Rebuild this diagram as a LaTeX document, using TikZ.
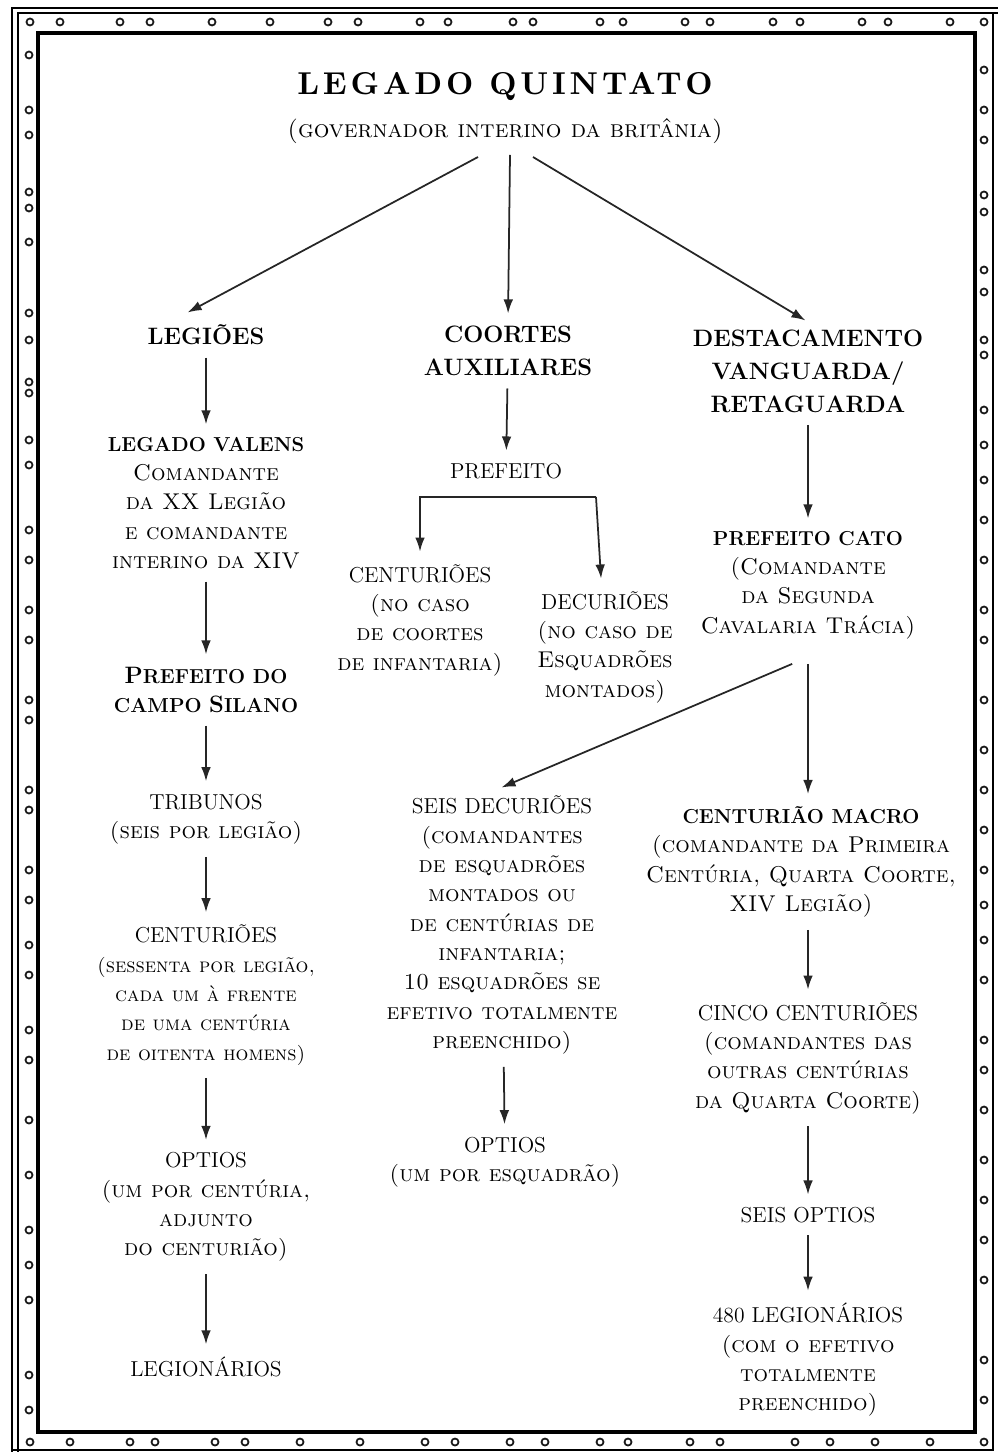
\documentclass[tikz,border=0pt]{standalone}
\usepackage{fontspec}
\usetikzlibrary{arrows.meta, positioning}
\newfontfamily\titlefont{lmroman10-bold}[Extension=.otf, LetterSpace=12]
\newcommand{\Chief}[1]{{\fontsize{11.5}{16.7}\selectfont\bfseries\upshape #1}}
\newcommand{\Top}[1]{{\fontsize{12.3}{16.7}\selectfont\upshape #1}}
\newcommand{\Ini}[1]{{\fontsize{13.5}{16.7}\selectfont #1}}

\begin{document}
\begin{tikzpicture}[x=0.02cm, y=-0.02cm,
    lbl/.style={align=center, inner sep=3pt,
      font=\fontsize{13}{16.7}\selectfont\scshape},
    lblsm/.style={lbl, font=\fontsize{11.5}{16.7}\selectfont\scshape},
    head/.style={align=center, inner sep=3pt,
      font=\fontsize{13.5}{18.7}\selectfont\bfseries},
    arrow/.style={-{Latex[length=8pt, width=5.5pt]}, line width=1pt, black!85,
      shorten <=4pt, shorten >=4pt},
    ring/.style={line width=1pt, black!90},
  ]
    \useasboundingbox (0,0) rectangle (998,1452);

    % frame
    \draw[line width=2.3pt] (38,33) rectangle (975,1432);
    \draw[line width=1.1pt] (12,1452) -- (12,8) -- (998,8);
    \draw[line width=1.1pt] (18,1452) -- (18,13) -- (998,13);
    \draw[line width=1.1pt] (993,13) -- (993,1450) -- (12,1450);
    \foreach \x in {30,60,120,150,212,270,328,358,420,448,513,533,600,623,685,710,773,800,862,888,950,984}
      \draw[ring] (\x,22) circle[radius=2pt];
    \foreach \x in {30,70,130,155,215,245,300,360,425,455,510,545,600,628,690,720,795,830,875,930,984}
      \draw[ring] (\x,1442) circle[radius=2pt];
    \foreach \y in {55,110,135,192,208,242,313,340,382,393,440,465,530,560,610,640,700,720,790,810,870,900,945,975,1030,1060,1120,1175,1230,1265,1300,1375,1410}
      \draw[ring] (29,\y) circle[radius=2pt];
    \foreach \y in {70,110,140,195,212,270,292,340,355,410,445,480,520,560,610,640,700,750,790,830,870,905,940,980,1040,1070,1110,1160,1200,1240,1280,1360,1400}
      \draw[ring] (984,\y) circle[radius=2pt];

    % top
    \node[inner sep=3pt] (title) at (505,87)
      {\titlefont\fontsize{18}{20}\selectfont LEGADO QUINTATO};
    \node[lbl, font=\fontsize{14}{16.7}\selectfont\scshape] (sub) at (505,131)
      {(governador interino da britânia)};
    \coordinate (tl) at (478,157);
    \coordinate (tm) at (510,155);
    \coordinate (tr) at (533,157);

    % branches
    \node[head] (legioes) at (206,335) {LEGIÕES};
    \node[head] (coortes) at (508,351) {COORTES\\AUXILIARES};
    \node[head] (destac) at (808,371) {DESTACAMENTO\\VANGUARDA/\\RETAGUARDA};

    % legions
    \node[lbl] (valens) at (206,503) {\Chief{LEGADO VALENS}\\Comandante\\da XX Legião\\e comandante\\interino da XIV};
    \node[lbl] (silano) at (206,690) {\Chief{\Ini{P}REFEITO DO}\\\Chief{CAMPO \Ini{S}ILANO}};
    \node[lbl] (tribunos) at (206,819) {\Top{TRIBUNOS}\\(seis por legião)};
    \node[lblsm] (centl) at (206,995) {\Top{CENTURIÕES}\\(sessenta por legião,\\cada um à frente\\de uma centúria\\de oitenta homens)};
    \node[lbl] (optiol) at (206,1207) {\Top{OPTIOS}\\(um por centúria,\\adjunto\\do centurião)};
    \node[lbl] (legion) at (206,1367) {\Top{LEGIONÁRIOS}};

    % auxiliaries
    \node[lbl] (prefeito) at (506,471) {\Top{PREFEITO}};
    \coordinate (bar) at (596,497);
    \node[lbl] (centm) at (420,620) {\Top{CENTURIÕES}\\(no caso\\de coortes\\de infantaria)};
    \node[lbl] (decur) at (605,647) {\Top{DECURIÕES}\\(no caso de\\Esquadrões\\montados)};

    % detachment
    \node[lbl] (cato) at (808,585) {\Chief{PREFEITO CATO}\\(Comandante\\da Segunda\\Cavalaria Trácia)};
    \node[lbl] (seisdec) at (502,925) {\Top{SEIS DECURIÕES}\\(comandantes\\de esquadrões\\montados ou\\de centúrias de\\infantaria;\\10 esquadrões se\\efetivo totalmente\\preenchido)};
    \node[lbl] (optiom) at (505,1162) {\Top{OPTIOS}\\(um por esquadrão)};
    \node[lbl] (macro) at (801,862) {\Chief{CENTURIÃO MACRO}\\(comandante da Primeira\\Centúria, Quarta Coorte,\\XIV Legião)};
    \node[lbl] (cinco) at (808,1058) {\Top{CINCO CENTURIÕES}\\(comandantes das\\outras centúrias\\da Quarta Coorte)};
    \node[lbl] (seisopt) at (808,1215) {\Top{SEIS OPTIOS}};
    \node[lbl] (l480) at (808,1360) {\Top{480 LEGIONÁRIOS}\\(com o efetivo\\totalmente\\preenchido)};

    % connectors
    \draw[arrow, shorten <=0pt] (tl) -- ([xshift=-14pt, yshift=2pt]legioes.north);
    \draw[arrow, shorten <=0pt] (tm) -- (coortes.north);
    \draw[arrow, shorten <=0pt] (tr) -- ([xshift=2pt]destac.north);

    \draw[arrow] (legioes) -- (valens);
    \draw[arrow] (valens) -- (silano);
    \draw[arrow] (silano) -- (tribunos);
    \draw[arrow] (tribunos) -- (centl);
    \draw[arrow] (centl) -- (optiol);
    \draw[arrow] (optiol) -- (legion);

    \draw[arrow] (coortes) -- (prefeito);
    \draw[arrow, shorten <=0pt] (bar) -| (centm.north);
    \draw[arrow, shorten <=0pt] (bar) -- ([xshift=-2pt]decur.north);

    \draw[arrow] (destac) -- (cato);
    \draw[arrow, shorten <=0pt] ([xshift=-9pt, yshift=-11pt]cato.south) -- ([xshift=-4pt]seisdec.north);
    \draw[arrow, shorten <=11pt] (cato.south) -- (cato.south |- macro.north);
    \draw[arrow] (macro.south -| cinco.north) -- (cinco);
    \draw[arrow] (seisdec) -- (optiom);
    \draw[arrow] (cinco) -- (seisopt);
    \draw[arrow] (seisopt) -- (l480);
  \end{tikzpicture}
\end{document}
